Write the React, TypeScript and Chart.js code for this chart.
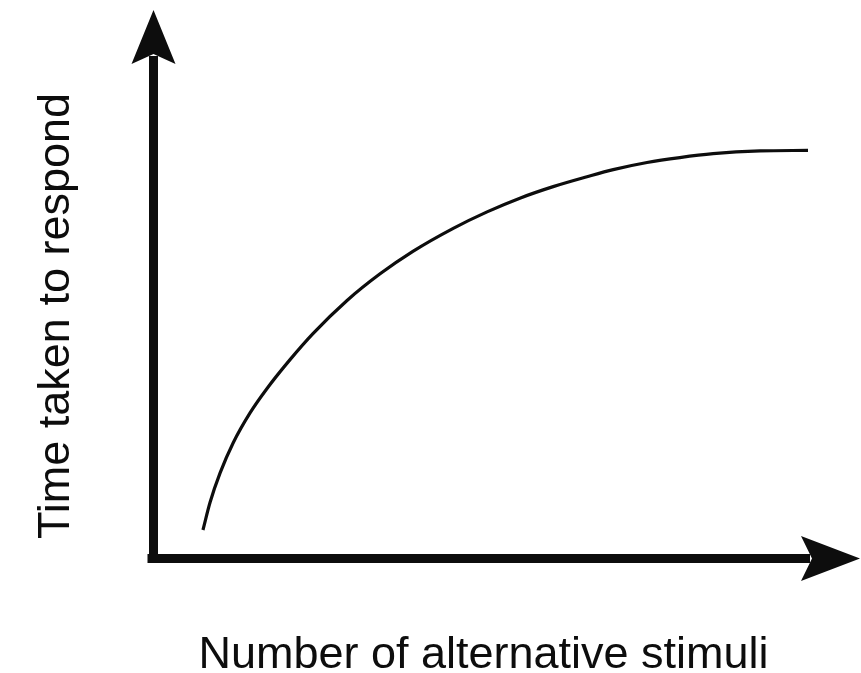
import React, { useEffect, useRef } from "react";
import { Chart, registerables } from "chart.js";

Chart.register(...registerables);

// Number of alternative stimuli (arbitrary units)
const stimuli = [0.98, 1.12, 1.32, 1.58, 1.91, 2.25, 2.71, 3.16, 3.83, 4.49, 5.14, 5.94, 6.61, 7.26, 7.92, 8.59, 9.11, 9.78, 10.43, 11.09, 12.02, 12.97];
// Time taken to respond (arbitrary units)
const responseTime = [0.52, 1.02, 1.56, 2.11, 2.65, 3.1, 3.63, 4.1, 4.7, 5.19, 5.6, 6.02, 6.32, 6.57, 6.78, 6.96, 7.09, 7.22, 7.31, 7.38, 7.43, 7.44];

const xTitle = "Number of alternative stimuli";
const yTitle = "Time taken to respond";

const X_MIN = 0;
const X_MAX = 14;
const Y_MIN = 0;
const Y_MAX = 10;

const INK = "#0d0d0d";
const FONT = '45px "Liberation Sans", Arial, Helvetica, sans-serif';

const arrowAxes = {
  id: "arrowAxes",
  beforeDatasetsDraw(chart: any) {
    const { ctx } = chart;
    const xs = chart.scales.x;
    const ys = chart.scales.y;
    const x0 = xs.getPixelForValue(X_MIN);
    const xEnd = xs.getPixelForValue(X_MAX);
    const y0 = ys.getPixelForValue(Y_MIN);
    const yEnd = ys.getPixelForValue(Y_MAX);
    ctx.save();
    ctx.strokeStyle = INK;
    ctx.fillStyle = INK;
    ctx.lineWidth = 9;
    ctx.lineCap = "butt";
    // y axis shaft
    ctx.beginPath();
    ctx.moveTo(x0, yEnd + 46);
    ctx.lineTo(x0, y0 + 4.5);
    ctx.stroke();
    // x axis shaft
    ctx.beginPath();
    ctx.moveTo(x0 - 6, y0);
    ctx.lineTo(xEnd - 50, y0);
    ctx.stroke();
    // y arrow head
    ctx.beginPath();
    ctx.moveTo(x0, yEnd);
    ctx.lineTo(x0 + 22, yEnd + 54);
    ctx.lineTo(x0, yEnd + 44);
    ctx.lineTo(x0 - 22, yEnd + 54);
    ctx.closePath();
    ctx.fill();
    // x arrow head
    ctx.beginPath();
    ctx.moveTo(xEnd, y0);
    ctx.lineTo(xEnd - 59, y0 - 22.5);
    ctx.lineTo(xEnd - 48, y0);
    ctx.lineTo(xEnd - 59, y0 + 22.5);
    ctx.closePath();
    ctx.fill();
    ctx.restore();
  },
  afterDraw(chart: any) {
    const { ctx } = chart;
    ctx.save();
    ctx.fillStyle = INK;
    ctx.font = FONT;
    ctx.textAlign = "center";
    ctx.textBaseline = "alphabetic";
    ctx.fillText(xTitle, 483.5, 668);
    ctx.translate(69, 316);
    ctx.rotate(-Math.PI / 2);
    ctx.fillText(yTitle, 0, 0);
    ctx.restore();
  },
};

export default function App() {
  const ref = useRef<HTMLCanvasElement | null>(null);
  useEffect(() => {
    if (!ref.current) return;
    const chart = new Chart(ref.current, {
      type: "line",
      data: {
        datasets: [
          {
            data: stimuli.map((x, i) => ({ x, y: responseTime[i] })),
            borderColor: INK,
            borderWidth: 3.2,
            pointRadius: 0,
            cubicInterpolationMode: "monotone",
            fill: false,
          },
        ],
      },
      options: {
        responsive: false,
        animation: false,
        events: [],
        layout: { padding: { left: 153.5, right: 1, top: 10, bottom: 114.5 } },
        plugins: { legend: { display: false }, tooltip: { enabled: false }, title: { display: false } },
        scales: {
          x: { type: "linear", min: X_MIN, max: X_MAX, display: false },
          y: { type: "linear", min: Y_MIN, max: Y_MAX, display: false },
        },
      },
      plugins: [arrowAxes],
    });
    return () => chart.destroy();
  }, []);
  return (
    <div style={{ position: "fixed", left: 0, top: 0, width: 861, height: 673, background: "#fff" }}>
      <canvas ref={ref} width={861} height={673} style={{ width: 861, height: 673, display: "block" }} />
    </div>
  );
}
